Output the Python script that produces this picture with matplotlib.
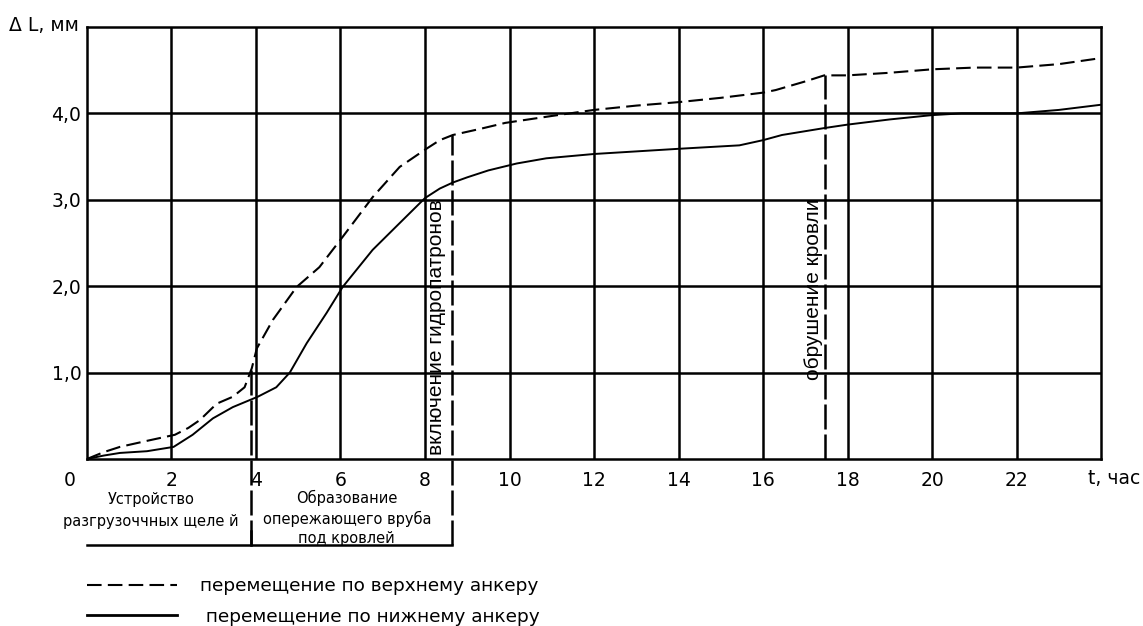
import matplotlib

matplotlib.use("Agg")
import matplotlib.pyplot as plt
import matplotlib.transforms as mtransforms
from matplotlib.lines import Line2D

plt.rcParams["font.family"] = ["DejaVu Sans"]

# displacement by upper anchor (dashed), mm
t_upper = [0, 0.4, 0.78, 1.42, 2.08, 2.4, 2.67, 3.07, 3.45, 3.73, 3.9, 4.02, 4.4, 4.96, 5.5,
           6.05, 6.76, 7.4, 8.0, 8.35, 8.66, 9.3, 9.9, 11, 12, 13, 14, 15, 16, 16.3, 17, 17.45,
           18, 19, 20, 21, 22, 23, 24]
dl_upper = [0, 0.08, 0.14, 0.21, 0.28, 0.36, 0.45, 0.64, 0.72, 0.83, 1.05, 1.28, 1.61, 1.99,
            2.22, 2.57, 3.03, 3.38, 3.58, 3.69, 3.75, 3.82, 3.89, 3.97, 4.04, 4.09, 4.13, 4.18,
            4.24, 4.27, 4.37, 4.44, 4.44, 4.47, 4.51, 4.53, 4.53, 4.57, 4.64]

# displacement by lower anchor (solid), mm
t_lower = [0, 0.4, 0.78, 1.42, 2.05, 2.5, 2.98, 3.45, 4.04, 4.48, 4.8, 5.2, 5.67, 6.05, 6.76,
           7.4, 8.0, 8.35, 8.66, 9.0, 9.5, 10.17, 10.87, 12, 13, 14, 15.44, 16, 16.45, 17.45,
           18, 19, 20, 20.7, 22, 23, 24]
dl_lower = [0, 0.04, 0.07, 0.09, 0.14, 0.28, 0.47, 0.6, 0.72, 0.83, 1.0, 1.34, 1.69, 1.99,
            2.42, 2.73, 3.02, 3.13, 3.2, 3.26, 3.34, 3.42, 3.48, 3.53, 3.56, 3.59, 3.63, 3.69,
            3.75, 3.83, 3.87, 3.93, 3.98, 4.0, 4.0, 4.04, 4.1]

# event markers: time, top of line, bottom of line
event_t = [3.89, 8.64, 17.47]
event_top = [1.05, 3.75, 4.44]
event_bottom = [-1.0, -1.0, 0]
event_labels = ["", "включение гидропатронов", "обрушение кровли"]

x_ticks = [0, 2, 4, 6, 8, 10, 12, 14, 16, 18, 20, 22]
y_ticks = [1, 2, 3, 4]
y_tick_labels = ["1,0", "2,0", "3,0", "4,0"]

stages = ["Устройство\nразгрузоччных щеле й", "Образование\nопережающего вруба\nпод кровлей"]
stage_bounds = [0, 3.89, 8.64]

legend_labels = ["перемещение по верхнему анкеру", " перемещение по нижнему анкеру"]

fig = plt.figure(figsize=(11.43, 6.26), dpi=100)
ax = fig.add_axes([0.0761, 0.2668, 0.8872, 0.6901])
ax.set_xlim(0, 24)
ax.set_ylim(0, 5)

lw_grid = 1.8
for x in range(2, 24, 2):
    ax.axvline(x, color="black", lw=lw_grid, zorder=1)
for y in y_ticks:
    ax.axhline(y, color="black", lw=lw_grid, zorder=1)
for s in ax.spines.values():
    s.set_linewidth(lw_grid)

ax.plot(t_upper, dl_upper, color="black", lw=1.5, ls=(0, (7, 3)), zorder=3)
ax.plot(t_lower, dl_lower, color="black", lw=1.4, zorder=3)

for t, top, bot in zip(event_t, event_top, event_bottom):
    ax.plot([t, t], [bot, top], color="black", lw=1.8, ls=(0, (10, 2)), clip_on=False, zorder=4)

ax.text(8.27, 0.05, event_labels[1], rotation=90, ha="center", va="bottom", fontsize=15,
        family="Liberation Sans", zorder=5)
ax.text(17.2, 0.91, event_labels[2], rotation=90, ha="center", va="bottom", fontsize=15,
        family="Liberation Sans", zorder=5)

ax.set_xticks(x_ticks)
ax.set_xticklabels([str(v) for v in x_ticks])
ax.set_yticks(y_ticks)
ax.set_yticklabels(y_tick_labels)
ax.tick_params(axis="both", length=0, labelsize=13.5, pad=9)
ax.tick_params(axis="y", pad=4)
zero = ax.get_xticklabels()[0]
zero.set_transform(zero.get_transform() + mtransforms.ScaledTranslation(-0.17, 0, fig.dpi_scale_trans))

fig.text(0.998, 0.236, "t, час", ha="right", va="center", fontsize=13.5)
fig.text(0.008, 0.959, "Δ L, мм", ha="left", va="center", fontsize=13.5)

# stage bracket under the time axis
ax.plot([stage_bounds[0], stage_bounds[2]], [-1.0, -1.0], color="black", lw=1.8, clip_on=False)
ax.plot([stage_bounds[1], stage_bounds[1]], [-0.83, -1.0], color="black", lw=1.8, clip_on=False)
ax.text(1.52, -0.6, stages[0], ha="center", va="center", fontsize=10.5, linespacing=1.6)
ax.text(6.15, -0.68, stages[1], ha="center", va="center", fontsize=10.5, linespacing=1.35)

handles = [Line2D([], [], color="black", lw=1.5, ls=(0, (7, 3))),
           Line2D([], [], color="black", lw=2.0)]
fig.legend(handles, legend_labels, loc="lower left", bbox_to_anchor=(0.0618, -0.026),
           frameon=False, fontsize=13.3, handlelength=4.87, handletextpad=1.24,
           labelspacing=0.68)

fig.savefig("out.png", dpi=100)
